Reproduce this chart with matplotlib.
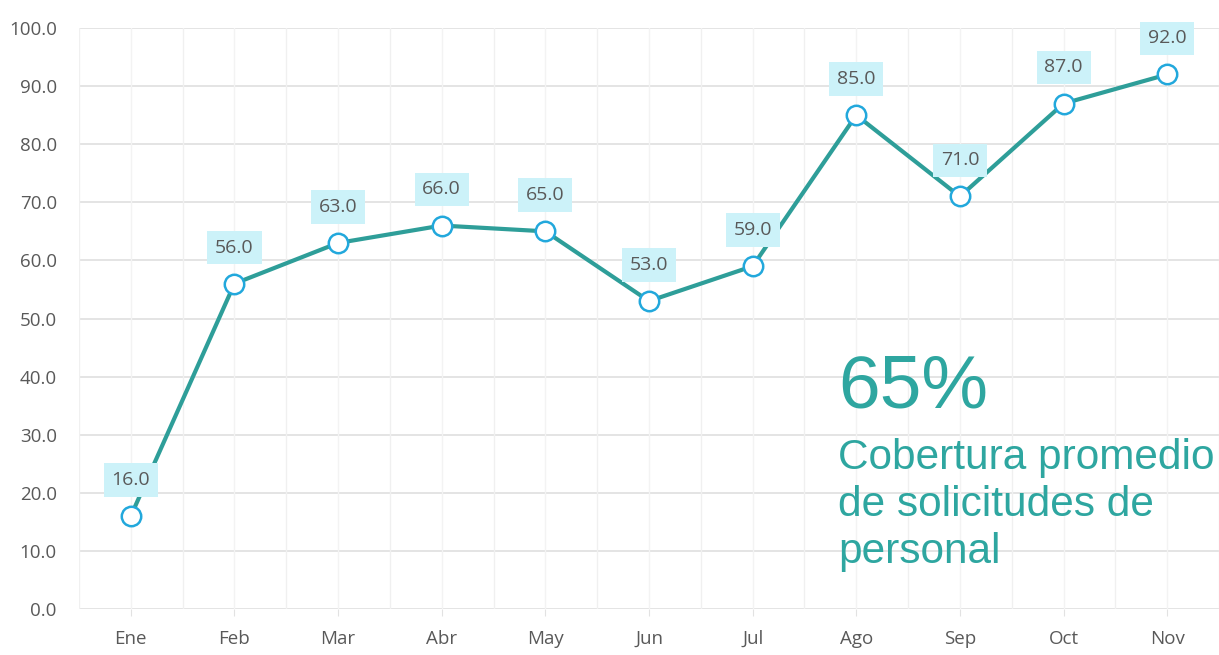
import numpy as np
import matplotlib.pyplot as plt

meses = ["Ene", "Feb", "Mar", "Abr", "May", "Jun", "Jul", "Ago", "Sep", "Oct", "Nov"]
cobertura = [16.0, 56.0, 63.0, 66.0, 65.0, 53.0, 59.0, 85.0, 71.0, 87.0, 92.0]
y_ticks = [0, 10, 20, 30, 40, 50, 60, 70, 80, 90, 100]

gris = "#595959"
teal = "#2e9e99"
azul = "#22a8dc"

fig = plt.figure(figsize=(12.19, 6.55), dpi=100)
ax = fig.add_axes([79 / 1219, 46 / 655, 1 - 79 / 1219, 581 / 655])

x = np.arange(len(meses))
ax.set_xlim(-0.5, len(meses) - 0.5)
ax.set_ylim(0, 100)

# rejilla
for yt in y_ticks:
    ax.axhline(yt, color="#e2e2e2", lw=1.3, zorder=0)
for xb in np.arange(-0.5, len(meses), 1.0):
    ax.axvline(xb, color="#f0f0f0", lw=1.0, zorder=0)
for xc in x:
    ax.axvline(xc, color="#f3f3f3", lw=1.0, zorder=0)

ax.plot(x, cobertura, color=teal, lw=3.0, zorder=2,
        marker="o", markersize=14, markerfacecolor="white",
        markeredgecolor=azul, markeredgewidth=1.8)

for xi, v in zip(x, cobertura):
    ax.annotate(f"{v:.1f}", (xi, v), xytext=(0, 26), textcoords="offset points",
                ha="center", va="center", fontsize=14, color=gris,
                family="Open Sans", zorder=3,
                bbox=dict(boxstyle="square,pad=0.4", fc="#ccf2f9", ec="none"))

ax.set_xticks(x)
ax.set_xticklabels(meses, family="Open Sans", fontsize=13.5, color=gris)
ax.set_yticks(y_ticks)
ax.set_yticklabels([f"{t:.1f}" for t in y_ticks], family="Open Sans",
                   fontsize=13.5, color=gris)
ax.tick_params(axis="x", length=5, color="#e2e2e2", pad=10)
ax.tick_params(axis="y", length=0, pad=16)
for s in ax.spines.values():
    s.set_visible(False)

txt = "#2ea6a0"
fig.text(838 / 1219, 1 - 408 / 655, "65%", fontsize=54, color=txt,
         family="Liberation Sans", va="baseline")
for i, linea in enumerate(["Cobertura promedio", "de solicitudes de", "personal"]):
    fig.text(838 / 1219, 1 - (469 + 47 * i) / 655, linea, fontsize=30.5,
             color=txt, family="Liberation Sans", va="baseline")

fig.savefig("out.png", dpi=100, facecolor="white")
